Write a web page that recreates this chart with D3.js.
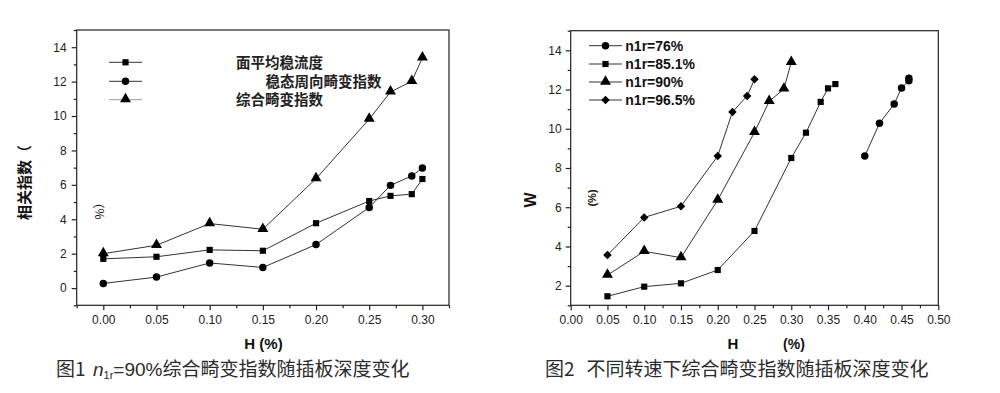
<!DOCTYPE html>
<html><head><meta charset="utf-8">
<script src="https://cdn.jsdelivr.net/npm/d3@7"></script>
<style>
html,body{margin:0;padding:0;background:#fff;}
svg{display:block;}
.tick text{font-family:"Liberation Sans",Arial,sans-serif;font-size:12px;fill:#222;}
</style></head>
<body><svg id="c" width="1000" height="393"></svg>
<script>
// ---------- data: chart 1 ----------
const leftX = [0.00, 0.05, 0.10, 0.15, 0.20, 0.25, 0.27, 0.29, 0.30];
const leftSquare = [1.70, 1.82, 2.22, 2.17, 3.77, 5.06, 5.36, 5.46, 6.34];   // 面平均稳流度
const leftCircle = [0.27, 0.64, 1.46, 1.20, 2.53, 4.69, 5.97, 6.52, 6.98];   // 稳态周向畸变指数
const leftTriangle = [2.00, 2.49, 3.75, 3.42, 6.36, 9.82, 11.40, 12.02, 13.38]; // 综合畸变指数
const leftLegend = ["面平均稳流度", "稳态周向畸变指数", "综合畸变指数"];
const leftXTicks = [0.00, 0.05, 0.10, 0.15, 0.20, 0.25, 0.30];
const leftYTicks = [0, 2, 4, 6, 8, 10, 12, 14];

// ---------- data: chart 2 ----------
const r76X = [0.40, 0.42, 0.44, 0.45, 0.46, 0.46];
const r76Y = [8.61, 10.28, 11.26, 12.08, 12.45, 12.58];
const r851X = [0.05, 0.10, 0.15, 0.20, 0.25, 0.30, 0.32, 0.34, 0.35, 0.36];
const r851Y = [1.46, 1.95, 2.12, 2.80, 4.79, 8.51, 9.80, 11.37, 12.06, 12.28];
const r90X = [0.05, 0.10, 0.15, 0.20, 0.25, 0.27, 0.29, 0.30];
const r90Y = [2.54, 3.75, 3.43, 6.37, 9.82, 11.40, 12.03, 13.39];
const r965X = [0.05, 0.10, 0.15, 0.20, 0.22, 0.24, 0.25];
const r965Y = [3.56, 5.48, 6.05, 8.61, 10.86, 11.67, 12.52];
const rightLegend = ["n1r=76%", "n1r=85.1%", "n1r=90%", "n1r=96.5%"];
const rightXTicks = [0.00, 0.05, 0.10, 0.15, 0.20, 0.25, 0.30, 0.35, 0.40, 0.45, 0.50];
const rightYTicks = [2, 4, 6, 8, 10, 12, 14];

const svg = d3.select("#c");
const LINE = "#333";
const sans = '"Liberation Sans",Arial,sans-serif';
const cjk = '"Noto Sans CJK SC","Noto Sans",sans-serif';

function marker(g, shape, x, y) {
  const sym = {square: d3.symbolSquare, circle: d3.symbolCircle, triangle: d3.symbolTriangle, diamond: d3.symbolSquare}[shape];
  const size = {square: 38, circle: 44, triangle: 52, diamond: 36}[shape];
  let tr = `translate(${x},${y})`;
  if (shape === "triangle") tr += " translate(0,-0.5)";
  if (shape === "diamond") tr += " rotate(45)";
  g.append("path").attr("d", d3.symbol(sym, size)()).attr("transform", tr).attr("fill", "#000");
}

function series(g, xs, ys, x, y, shape) {
  const pts = xs.map((v, i) => [x(v), y(ys[i])]);
  g.append("path").attr("d", d3.line()(pts)).attr("fill", "none").attr("stroke", LINE).attr("stroke-width", 1);
  pts.forEach(p => marker(g, shape, p[0], p[1]));
}

function frame(g, x, y, xTicks, yTicks, xMinor, yMinor, xFmt, yPad) {
  const [x0, x1] = x.range(), [y0, y1] = y.range();
  g.append("rect").attr("x", x0).attr("y", y1).attr("width", x1 - x0).attr("height", y0 - y1)
    .attr("fill", "none").attr("stroke", "#222").attr("stroke-width", 1.2);
  const ax = g.append("g").attr("transform", `translate(0,${y0})`)
    .call(d3.axisBottom(x).tickValues(xTicks).tickFormat(xFmt).tickSize(5).tickPadding(5));
  const axm = g.append("g").attr("transform", `translate(0,${y0})`)
    .call(d3.axisBottom(x).tickValues(xMinor).tickFormat("").tickSize(3));
  const ay = g.append("g").attr("transform", `translate(${x0},0)`)
    .call(d3.axisLeft(y).tickValues(yTicks).tickFormat(d3.format("d")).tickSize(5).tickPadding(yPad));
  const aym = g.append("g").attr("transform", `translate(${x0},0)`)
    .call(d3.axisLeft(y).tickValues(yMinor).tickFormat("").tickSize(3));
  [ax, axm, ay, aym].forEach(a => { a.select(".domain").remove(); a.selectAll("line").attr("stroke", "#222").attr("stroke-width", 1.2); });
}

// ---------- chart 1 ----------
const xL = d3.scaleLinear().domain([-0.025, 0.325]).range([76.7, 449]);
const yL = d3.scaleLinear().domain([-1, 15]).range([305.3, 30]);
const g1 = svg.append("g");
frame(g1, xL, yL, leftXTicks, leftYTicks,
  d3.range(-0.025, 0.33, 0.05).map(v => +v.toFixed(3)),
  [-1, 1, 3, 5, 7, 9, 11, 13, 15], d3.format(".2f"), 5);
series(g1, leftX, leftSquare, xL, yL, "square");
series(g1, leftX, leftCircle, xL, yL, "circle");
series(g1, leftX, leftTriangle, xL, yL, "triangle");

// legend 1
const lg1 = [62.3, 81.3, 99.7];
const shapes1 = ["square", "circle", "triangle"];
lg1.forEach((ly, i) => {
  g1.append("line").attr("x1", 109).attr("x2", 142).attr("y1", ly).attr("y2", ly)
    .attr("stroke", i === 2 ? "#999" : LINE).attr("stroke-width", 1);
  marker(g1, shapes1[i], 125.5, ly);
});
const lgx1 = [236, 265.5, 236];
leftLegend.forEach((t, i) => {
  g1.append("text").attr("x", lgx1[i]).attr("y", lg1[i] + 5.2).text(t)
    .attr("font-family", cjk).attr("font-size", 14.5).attr("font-weight", "bold").attr("fill", "#222");
});
// axis titles 1
g1.append("text").attr("transform", "translate(30,182.5) rotate(-90)").attr("text-anchor", "middle")
  .attr("font-family", cjk).attr("font-size", 15).attr("font-weight", "bold").attr("fill", "#111").text("相关指数（");
g1.append("text").attr("transform", "translate(104,208) rotate(-90)").attr("text-anchor", "middle")
  .attr("font-family", cjk).attr("font-size", 12).attr("fill", "#111").text("%）");
g1.append("text").attr("x", 263.5).attr("y", 348.5).attr("text-anchor", "middle")
  .attr("font-family", sans).attr("font-size", 15).attr("font-weight", "bold").attr("fill", "#111").text("H (%)");

// ---------- chart 2 ----------
const xR = d3.scaleLinear().domain([0, 0.5]).range([570.7, 938.3]);
const yR = d3.scaleLinear().domain([1, 15]).range([305.3, 30.7]);
const g2 = svg.append("g");
frame(g2, xR, yR, rightXTicks, rightYTicks,
  d3.range(0.025, 0.5, 0.05).map(v => +v.toFixed(3)),
  [1, 3, 5, 7, 9, 11, 13, 15], d3.format(".2f"), 4);
series(g2, r76X, r76Y, xR, yR, "circle");
series(g2, r851X, r851Y, xR, yR, "square");
series(g2, r90X, r90Y, xR, yR, "triangle");
series(g2, r965X, r965Y, xR, yR, "diamond");

const lg2 = [45.7, 64, 82, 100];
const shapes2 = ["circle", "square", "triangle", "diamond"];
lg2.forEach((ly, i) => {
  g2.append("line").attr("x1", 589).attr("x2", 622).attr("y1", ly).attr("y2", ly).attr("stroke", LINE).attr("stroke-width", 1);
  marker(g2, shapes2[i], 605.5, ly);
  g2.append("text").attr("x", 625.3).attr("y", ly + 5).text(rightLegend[i])
    .attr("font-family", sans).attr("font-size", 14).attr("font-weight", "bold").attr("fill", "#111");
});
g2.append("text").attr("transform", "translate(536,200) rotate(-90)").attr("text-anchor", "middle")
  .attr("font-family", sans).attr("font-size", 16).attr("font-weight", "bold").attr("fill", "#111").text("W");
g2.append("text").attr("transform", "translate(596,198) rotate(-90)").attr("text-anchor", "middle")
  .attr("font-family", sans).attr("font-size", 11).attr("font-weight", "bold").attr("fill", "#111").text("(%)");
g2.append("text").attr("x", 733).attr("y", 348.5).attr("text-anchor", "middle")
  .attr("font-family", sans).attr("font-size", 15).attr("font-weight", "bold").attr("fill", "#111").text("H");
g2.append("text").attr("x", 794).attr("y", 348.5).attr("text-anchor", "middle")
  .attr("font-family", sans).attr("font-size", 14).attr("font-weight", "bold").attr("fill", "#111").text("(%)");

// ---------- captions ----------
const cap1 = svg.append("text").attr("x", 56).attr("y", 376).attr("font-family", cjk).attr("font-size", 19).attr("fill", "#2b2b2b");
cap1.append("tspan").text("图1");
cap1.append("tspan").attr("x", 93).attr("font-family", sans).attr("font-style", "italic").text("n");
cap1.append("tspan").attr("font-family", sans).attr("font-size", 11).attr("dy", 3).text("1r");
cap1.append("tspan").attr("dy", -3).attr("font-family", sans).text("=90%");
cap1.append("tspan").text("综合畸变指数随插板深度变化");

const cap2 = svg.append("text").attr("x", 545).attr("y", 376).attr("font-family", cjk).attr("font-size", 19).attr("fill", "#2b2b2b");
cap2.append("tspan").text("图2");
cap2.append("tspan").attr("x", 586.5).text("不同转速下综合畸变指数随插板深度变化");
</script></body></html>
